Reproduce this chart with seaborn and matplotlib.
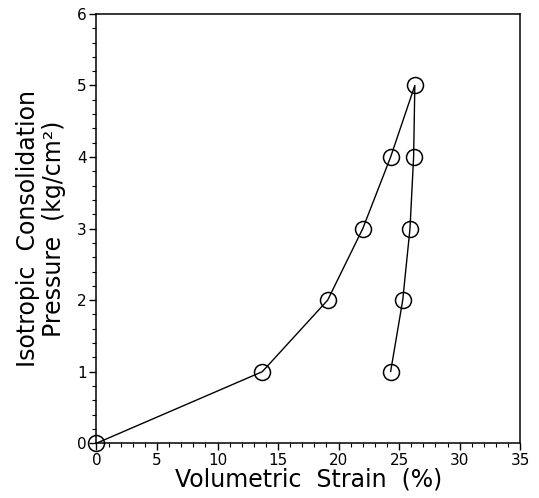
import matplotlib
matplotlib.use("Agg")
import matplotlib.pyplot as plt
import seaborn as sns
import pandas as pd
from matplotlib.ticker import MultipleLocator

# Data (loading then unloading path)
strain = [0.0, 13.7, 19.1, 22.0, 24.3, 26.3, 26.2, 25.9, 25.3, 24.3]
pressure = [0, 1, 2, 3, 4, 5, 4, 3, 2, 1]
order = list(range(len(strain)))

x_ticks = [0, 5, 10, 15, 20, 25, 30, 35]
y_ticks = [0, 1, 2, 3, 4, 5, 6]

sns.set_style("ticks")
plt.rcParams['font.family'] = ['DejaVu Sans']
plt.rcParams['text.color'] = 'black'
plt.rcParams['axes.labelcolor'] = 'black'
plt.rcParams['xtick.color'] = 'black'
plt.rcParams['ytick.color'] = 'black'

df = pd.DataFrame({"strain": strain, "pressure": pressure, "order": order})

fig = plt.figure(figsize=(5.39, 4.98), dpi=100)
ax = fig.add_axes([0.179, 0.110, 0.786, 0.862])

sns.lineplot(data=df, x="strain", y="pressure", sort=False, estimator=None,
             color="black", linewidth=1.0, marker="o", markersize=11.5,
             markerfacecolor="none", markeredgecolor="black",
             markeredgewidth=1.1, ax=ax, clip_on=False)

ax.set_xlim(0, 35)
ax.set_ylim(0, 6)
ax.set_xticks(x_ticks)
ax.set_yticks(y_ticks)
ax.xaxis.set_minor_locator(MultipleLocator(1))
ax.yaxis.set_minor_locator(MultipleLocator(0.2))
ax.tick_params(axis="both", which="major", direction="out", length=5,
               width=1.0, labelsize=11, color="black", labelcolor="black", pad=2)
ax.tick_params(axis="both", which="minor", direction="out", length=3,
               width=0.8, color="black")
for s in ax.spines.values():
    s.set_linewidth(1.1)
    s.set_color("black")

ax.set_xlabel("Volumetric  Strain  (%)", fontsize=17, labelpad=0,
              color="black")
ax.set_ylabel("Isotropic  Consolidation\nPressure  (kg/cm²)", fontsize=17,
              labelpad=8, linespacing=1.1, color="black")

fig.savefig("out.png", dpi=100)
